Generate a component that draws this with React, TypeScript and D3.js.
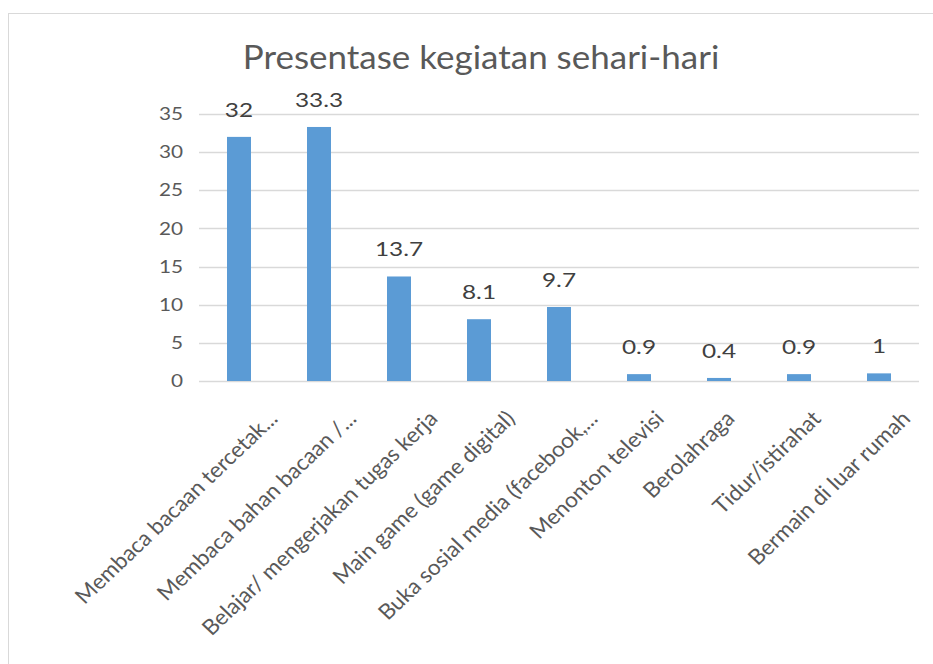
import React from "react";
import * as d3 from "d3";

const title = "Presentase kegiatan sehari-hari";
const categories = [
  "Membaca bacaan tercetak...",
  "Membaca bahan bacaan /...",
  "Belajar/ mengerjakan tugas kerja",
  "Main game (game digital)",
  "Buka sosial media (facebook,...",
  "Menonton televisi",
  "Berolahraga",
  "Tidur/istirahat",
  "Bermain di luar rumah",
];
const values = [32, 33.3, 13.7, 8.1, 9.7, 0.9, 0.4, 0.9, 1];
const yTicks = [0, 5, 10, 15, 20, 25, 30, 35];

const W = 933;
const H = 664;
const FONT = "Lato, 'Open Sans', sans-serif";
const SX = 1.22;

export default function App() {
  const x = d3.scaleBand<string>().domain(categories).range([199, 919]).padding(0);
  const y = d3.scaleLinear().domain([0, 35]).range([381, 114]);
  const bw = x.bandwidth();
  const barW = bw * 0.3;

  return (
    <svg
      width={W}
      height={H}
      style={{ position: "absolute", left: 0, top: 0, display: "block", background: "#fff" }}
    >
      <rect x={8.5} y={13.5} width={W + 20} height={H + 20} fill="#fff" stroke="#D9D9D9" strokeWidth={1} />
      <text
        transform={`translate(481,69) scale(1.06,1)`}
        textAnchor="middle"
        fontFamily={FONT}
        fontSize={33}
        fill="#595959"
      >
        {title}
      </text>
      {yTicks.map((t) => (
        <g key={t}>
          <line x1={199} x2={919} y1={Math.round(y(t)) + 0.5} y2={Math.round(y(t)) + 0.5} stroke="#D9D9D9" strokeWidth={1.3} />
          <text
            transform={`translate(183,${y(t)}) scale(${SX},1)`}
            dy="0.36em"
            textAnchor="end"
            fontFamily={FONT}
            fontSize={17}
            fill="#595959"
          >
            {t}
          </text>
        </g>
      ))}
      {categories.map((c, i) => {
        const cx = (x(c) as number) + bw / 2;
        const v = values[i];
        const off = Math.min(40, 1.55 * c.length);
        return (
          <g key={c}>
            <rect x={cx - barW / 2} y={y(v)} width={barW} height={y(0) - y(v)} fill="#5B9BD5" />
            <text
              transform={`translate(${cx},${y(v) - 20}) scale(${SX},1)`}
              textAnchor="middle"
              fontFamily={FONT}
              fontSize={20}
              fill="#404040"
            >
              {v}
            </text>
            <text
              transform={`translate(${cx + off},${y(0) + 39}) scale(1.05,1) rotate(-45)`}
              textAnchor="end"
              fontFamily={FONT}
              fontSize={21.5}
              fill="#595959"
            >
              {c}
            </text>
          </g>
        );
      })}
    </svg>
  );
}
